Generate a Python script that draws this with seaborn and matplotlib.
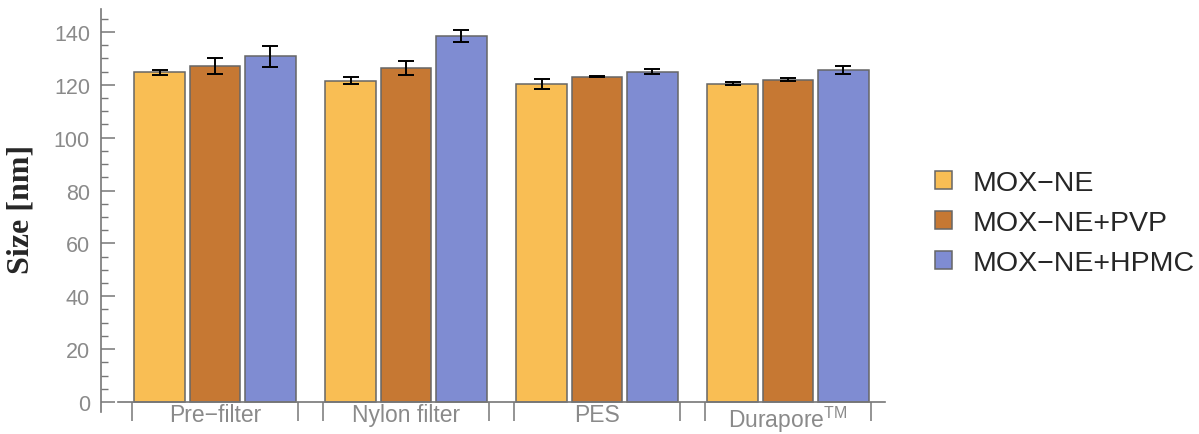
import matplotlib
matplotlib.use("Agg")
import matplotlib.pyplot as plt
import seaborn as sns
import pandas as pd
import numpy as np
from matplotlib.ticker import MultipleLocator, FixedLocator
from matplotlib.patches import Patch

categories = ["Pre-filter", "Nylon filter", "PES", "Durapore"]
cat_labels = ["Pre\u2212filter", "Nylon filter", "PES", "Durapore$^{\\mathregular{TM}}$"]
series = ["MOX\u2212NE", "MOX\u2212NE+PVP", "MOX\u2212NE+HPMC"]
mox_ne = [124.7, 121.6, 120.3, 120.5]
mox_ne_pvp = [127.2, 126.5, 123.1, 122.0]
mox_ne_hpmc = [130.8, 138.4, 125.0, 125.6]
err_ne = [0.9, 1.25, 1.75, 0.5]
err_pvp = [3.1, 2.6, 0.2, 0.5]
err_hpmc = [3.9, 2.2, 0.9, 1.4]
colors = ["#F9BE54", "#C67833", "#7F8CD2"]

vals = [mox_ne, mox_ne_pvp, mox_ne_hpmc]
errs = [err_ne, err_pvp, err_hpmc]
rows = []
for s, v, e in zip(series, vals, errs):
    for c, vv, ee in zip(categories, v, e):
        rows.append({"Filter": c, "Formulation": s, "Size": vv, "err": ee})
df = pd.DataFrame(rows)

sns.set_style("white")
plt.rcParams["font.family"] = ["Liberation Sans", "DejaVu Sans"]
plt.rcParams["mathtext.fontset"] = "custom"
plt.rcParams["mathtext.rm"] = "Liberation Sans"

fig = plt.figure(figsize=(11.99, 4.35), dpi=100)
ax = fig.add_axes([101 / 1199, (435 - 413) / 435, (885 - 101) / 1199, (413 - 10) / 435])

sns.barplot(data=df, x="Filter", y="Size", hue="Formulation", order=categories,
            hue_order=series, palette=colors, saturation=1, width=0.87, gap=0.08,
            edgecolor="#666666", linewidth=1.1, errorbar=None, legend=False, ax=ax)

# error bars
n = len(series)
w = 0.87 / n
for i, s in enumerate(series):
    xs = np.arange(len(categories)) - 0.87 / 2 + w * (i + 0.5)
    ax.errorbar(xs, vals[i], yerr=errs[i], fmt="none", ecolor="black",
                elinewidth=1.4, capsize=6, capthick=1.4, zorder=5)

ax.set_xlim(-0.597, 3.508)
ax.set_ylim(-3.8, 148.7)

for sp in ["top", "right"]:
    ax.spines[sp].set_visible(False)
ax.spines["left"].set_color("#777777")
ax.spines["left"].set_linewidth(1.2)
ax.spines["bottom"].set_position(("data", 0))
ax.spines["bottom"].set_bounds(-0.508, 3.508)
ax.spines["bottom"].set_color("#777777")
ax.spines["bottom"].set_linewidth(1.2)

# y ticks
ax.yaxis.set_major_locator(MultipleLocator(20))
ax.yaxis.set_minor_locator(MultipleLocator(5))
ax.tick_params(axis="y", which="major", direction="in", length=10, width=1.1,
               color="#777777", labelsize=15.5, labelcolor="#8a8a8a", pad=8, left=True)
ax.tick_params(axis="y", which="minor", direction="in", length=5, width=1.0,
               color="#777777", left=True)

# x ticks: marks at group edges, labels at centers
edges = []
for k in range(len(categories)):
    edges += [k - 0.435, k + 0.435]
ax.xaxis.set_major_locator(FixedLocator(edges))
ax.set_xticklabels([""] * len(edges))
ax.xaxis.set_minor_locator(FixedLocator(range(len(categories))))
ax.set_xticklabels(cat_labels, minor=True)
ax.tick_params(axis="x", which="major", direction="out", length=14, width=1.1,
               color="#777777", bottom=True)
ax.tick_params(axis="x", which="minor", length=0, labelsize=16.5, labelcolor="#8a8a8a", pad=1)

ax.set_xlabel("")
ax.set_ylabel("Size [nm]", fontsize=23, fontweight="bold",
              family=["Liberation Serif", "DejaVu Serif"])
ax.yaxis.set_label_coords(-0.083, 0.504)

handles = [Patch(facecolor=c, edgecolor="#666666", linewidth=1.1) for c in colors]
fig.legend(handles, series, loc="center left", bbox_to_anchor=(0.780, 0.485),
           frameon=False, fontsize=20.5, handlelength=0.6, handleheight=0.6,
           handletextpad=0.7, labelspacing=0.5, borderaxespad=0, borderpad=0)

fig.savefig("out.png", dpi=100)
